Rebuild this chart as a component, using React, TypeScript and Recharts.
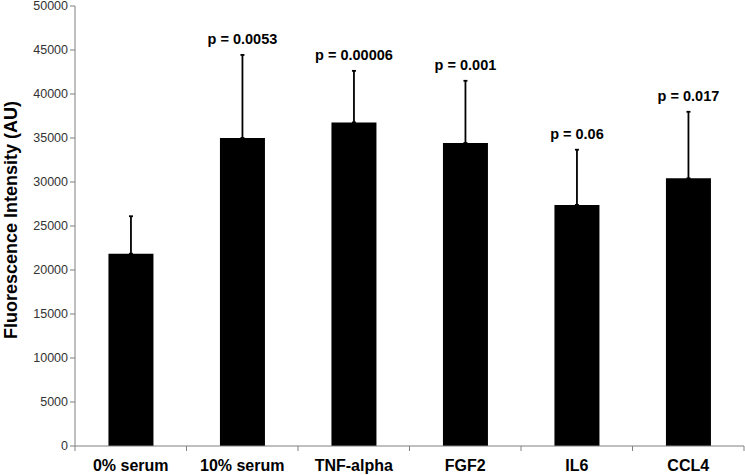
import React from 'react';
import { BarChart, Bar, XAxis, YAxis, ErrorBar, LabelList, Label } from 'recharts';

const categories = ['0% serum', '10% serum', 'TNF-alpha', 'FGF2', 'IL6', 'CCL4'];
const means = [21850, 35000, 36770, 34430, 27400, 30420];
const errors = [4260, 9440, 5860, 7070, 6270, 7560];
const pValues = ['', 'p = 0.0053', 'p = 0.00006', 'p = 0.001', 'p = 0.06', 'p = 0.017'];
const yTicks = [0, 5000, 10000, 15000, 20000, 25000, 30000, 35000, 40000, 45000, 50000];

const data = categories.map((name, i) => ({
  name,
  value: means[i],
  err: [0, errors[i]],
  p: pValues[i],
}));

const FONT = 'Arial, "Liberation Sans", Helvetica, sans-serif';

// x ticks sit at the category boundaries, labels at the centres
const XTick = (props: any) => {
  const { x, y, payload, index } = props;
  const half = payload.offset || 55.75;
  return (
    <g>
      <line x1={x - half} y1={y - 8} x2={x - half} y2={y - 3} stroke="#808080" />
      {index === categories.length - 1 && (
        <line x1={x + half} y1={y - 8} x2={x + half} y2={y - 3} stroke="#808080" />
      )}
      <text x={x} y={y + 17} textAnchor="middle" fontFamily={FONT} fontSize={16} fontWeight="bold" fill="#000">
        {payload.value}
      </text>
    </g>
  );
};

const PLabel = (props: any) => {
  const { x, y, width, height, index } = props;
  const txt = pValues[index];
  if (!txt) return null;
  const pxPerUnit = height / means[index];
  const top = y - errors[index] * pxPerUnit;
  return (
    <text x={x + width / 2} y={top - 11} textAnchor="middle" fontFamily={FONT} fontSize={14.5} fontWeight="bold" fill="#000">
      {txt}
    </text>
  );
};

export default function App() {
  return (
    <div style={{ position: 'absolute', left: 0, top: 0 }}>
      <BarChart
        width={745}
        height={475}
        data={data}
        margin={{ top: 6, right: 1, bottom: 0, left: 0 }}
        barCategoryGap="30%"
      >
        <XAxis
          dataKey="name"
          height={29}
          stroke="#808080"
          tickLine={false}
          tick={<XTick />}
          interval={0}
        />
        <YAxis
          width={75}
          domain={[0, 50000]}
          ticks={yTicks}
          interval={0}
          stroke="#808080"
          tickSize={5}
          tick={{ fill: '#333', fontSize: 12.5, fontFamily: FONT }}
        >
          <Label
            content={(p: any) => {
              const vb = p.viewBox;
              const cy = vb.y + vb.height / 2 - 6;
              return (
                <text
                  x={11}
                  y={cy}
                  transform={`rotate(-90, 11, ${cy})`}
                  textAnchor="middle"
                  dominantBaseline="central"
                  fontFamily={FONT}
                  fontSize={18}
                  fontWeight="bold"
                  fill="#000"
                >
                  Fluorescence Intensity (AU)
                </text>
              );
            }}
          />
        </YAxis>
        <Bar dataKey="value" fill="#000" isAnimationActive={false}>
          <ErrorBar dataKey="err" direction="y" width={2} stroke="#000" strokeWidth={1.8} />
          <LabelList dataKey="p" content={<PLabel />} />
        </Bar>
      </BarChart>
    </div>
  );
}
